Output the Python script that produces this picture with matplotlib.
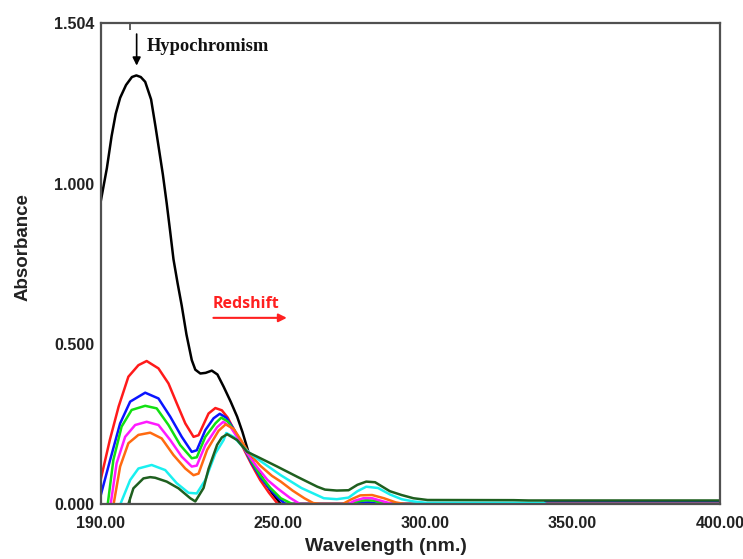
import matplotlib.pyplot as plt

# absorbance spectra, one (wavelength, absorbance) list per titration step
wl_black = [190, 192, 193.6, 195, 196.5, 198.5, 200.5, 202, 203.5, 205, 207, 208.5, 209.5, 211, 212.3,
            213.5, 214.6, 216, 217.4, 219, 220.8, 222, 223.7, 225.5, 227.6, 229.5, 231.6, 234, 236.2,
            238, 240.1, 242.5, 245.2, 248, 251, 400]
abs_black = [0.95, 1.05, 1.15, 1.22, 1.27, 1.31, 1.335, 1.34, 1.335, 1.32, 1.265, 1.18, 1.12, 1.03, 0.94,
             0.85, 0.765, 0.69, 0.62, 0.53, 0.45, 0.42, 0.408, 0.41, 0.417, 0.405, 0.367, 0.32, 0.273,
             0.225, 0.16, 0.115, 0.075, 0.035, 0.0, 0.0]

wl_red = [190, 193, 196, 199.3, 202.7, 205.5, 209.5, 212.9, 215.7, 218.6, 221.4, 223.1, 226.5, 228.8,
          231, 233, 235.5, 238, 241, 244, 247, 250, 400]
abs_red = [0.08, 0.2, 0.305, 0.398, 0.434, 0.447, 0.424, 0.377, 0.315, 0.252, 0.21, 0.215, 0.283, 0.3,
           0.293, 0.27, 0.225, 0.18, 0.125, 0.075, 0.035, 0.0, 0.0]

wl_blue = [190, 193.1, 196.5, 199.9, 205, 209.5, 213.5, 217.4, 220.8, 222.5, 225.4, 228.2, 230.3, 232.5,
           235, 238, 241, 244, 247, 250, 252.6, 275, 278, 281, 284, 340, 341, 400]
abs_blue = [0.03, 0.1375, 0.252, 0.32, 0.348, 0.33, 0.273, 0.21, 0.163, 0.168, 0.231, 0.268, 0.282, 0.27,
            0.235, 0.185, 0.13, 0.085, 0.05, 0.02, 0.0, 0.0, 0.004, 0.005, 0.0, 0.0, 0.008, 0.008]

wl_green = [191.5, 192.3, 194.2, 197, 200.4, 205, 208.9, 212.9, 216.9, 220.8, 222.5, 225.4, 228.8, 230.8,
            233, 235.5, 238, 241, 244, 247.5, 251, 254.9, 275, 277, 280, 283, 286, 400]
abs_green = [-0.02, 0.0, 0.1375, 0.242, 0.294, 0.307, 0.299, 0.247, 0.184, 0.143, 0.146, 0.21, 0.252, 0.27,
             0.258, 0.225, 0.185, 0.135, 0.09, 0.05, 0.018, 0.0, 0.0, 0.008, 0.012, 0.01, 0.0, 0.0]

wl_magenta = [192.5, 193.3, 195.3, 198.2, 201.6, 205.5, 209.5, 213.5, 217.4, 220.8, 222.5, 225.4, 229.4,
              231.5, 234, 236.5, 239.5, 243, 246.5, 250, 254, 257.5, 274, 276, 279, 282, 285, 289, 400]
abs_magenta = [-0.02, 0.0, 0.127, 0.21, 0.247, 0.257, 0.247, 0.2, 0.148, 0.117, 0.12, 0.184, 0.24,
               0.257, 0.24, 0.205, 0.16, 0.115, 0.075, 0.048, 0.02, 0.0, 0.0, 0.01, 0.018, 0.018, 0.01, 0.0, 0.0]

wl_orange = [193.5, 194.3, 196.5, 199.3, 202.7, 206.7, 210.6, 214.6, 218.6, 221.4, 223.1, 226, 229.9,
             232.3, 235, 237.5, 240, 244, 248, 251, 255, 259, 262, 264.5, 272, 275, 278, 282, 286, 290,
             293, 400]
abs_orange = [-0.02, 0.0, 0.117, 0.19, 0.216, 0.223, 0.205, 0.153, 0.111, 0.09, 0.095, 0.169, 0.229,
              0.249, 0.235, 0.2, 0.162, 0.12, 0.088, 0.07, 0.042, 0.018, 0.003, 0.0, 0.0, 0.015, 0.027,
              0.028, 0.018, 0.005, 0.0, 0.0]

wl_cyan = [195.8, 196.6, 199.9, 202.7, 207.2, 211.8, 215.7, 219.7, 222.5, 225.4, 228.8, 231.6, 232.5,
           235, 238, 240, 244, 251, 258, 265.6, 270, 274, 277, 280, 284, 288, 292, 296, 300, 340, 341]
abs_cyan = [-0.02, 0.0, 0.075, 0.111, 0.122, 0.106, 0.065, 0.035, 0.033, 0.075, 0.158, 0.2, 0.222,
            0.21, 0.18, 0.163, 0.135, 0.09, 0.05, 0.018, 0.015, 0.02, 0.04, 0.054, 0.05, 0.03, 0.015,
            0.008, 0.004, 0.004, 0.0]

wl_dkgreen = [198.5, 199.3, 201, 204.4, 206.7, 208.4, 212.3, 216.3, 220.3, 222, 224.8, 226.5, 229.4, 231,
              232.8, 236.2, 239.6, 243, 249.8, 256.6, 263.4, 266, 270, 274, 277, 280, 283, 288, 292,
              296, 300.8, 330, 335, 400]
abs_dkgreen = [-0.02, 0.0, 0.049, 0.08, 0.084, 0.082, 0.07, 0.049, 0.018, 0.008, 0.05, 0.11, 0.185, 0.208,
               0.218, 0.2, 0.163, 0.148, 0.117, 0.085, 0.054, 0.045, 0.042, 0.043, 0.06, 0.07, 0.068,
               0.04, 0.028, 0.018, 0.0125, 0.012, 0.011, 0.011]

spectra = [
    (wl_black, abs_black, "black"),
    (wl_red, abs_red, "#ff1a1a"),
    (wl_blue, abs_blue, "#0a14ff"),
    (wl_green, abs_green, "#12e012"),
    (wl_magenta, abs_magenta, "#ff1aff"),
    (wl_orange, abs_orange, "#ff6a10"),
    (wl_cyan, abs_cyan, "#1af0f0"),
    (wl_dkgreen, abs_dkgreen, "#1f5f1f"),
]

xtick_vals = [190, 250, 300, 350, 400]
xtick_labels = ["190.00", "250.00", "300.00", "350.00", "400.00"]
ytick_vals = [0.0, 0.5, 1.0, 1.504]
ytick_labels = ["0.000", "0.500", "1.000", "1.504"]

fig = plt.figure(figsize=(7.43, 5.59), dpi=100)
ax = fig.add_axes([0.1359, 0.0984, 0.8331, 0.8605])

for wl, a, col in spectra:
    ax.plot(wl, a, color=col, lw=1.8, solid_joinstyle="round")

ax.set_xlim(190, 400)
ax.set_ylim(0, 1.504)

axis_col = "#505050"
for s in ax.spines.values():
    s.set_color(axis_col)
    s.set_linewidth(1.6)

ax.set_xticks(xtick_vals)
ax.set_xticklabels(xtick_labels, fontfamily="Liberation Sans", fontweight="bold",
                   fontsize=11.5, color="#222222")
ax.set_yticks(ytick_vals)
ax.set_yticklabels(ytick_labels, fontfamily="Liberation Sans", fontweight="bold",
                   fontsize=11.5, color="#222222")
ax.tick_params(axis="x", length=0, pad=9)
ax.tick_params(axis="y", length=0, pad=5)

# small inward tick marks
ax.set_xticks([200, 250, 300, 350], minor=True)
ax.set_yticks([0.5, 1.0], minor=True)
ax.tick_params(which="minor", direction="in", length=5, width=1.3, color=axis_col,
               top=True, bottom=True, left=True, right=False)

ax.set_xlabel("Wavelength (nm.)", fontfamily="Liberation Sans", fontweight="bold",
              fontsize=14, color="#222222")
ax.set_ylabel("Absorbance", fontfamily="Liberation Sans", fontweight="bold",
              fontsize=13.5, color="#222222")
ax.xaxis.set_label_coords(0.46, -0.071)
ax.yaxis.set_label_coords(-0.112, 0.534)

# annotations
ax.annotate("", xy=(202.1, 1.362), xytext=(202.1, 1.478),
            arrowprops=dict(arrowstyle="-|>", color="black", lw=1.2, mutation_scale=12))
ax.text(205.4, 1.431, "Hypochromism", fontfamily="Liberation Serif", fontweight="bold",
        fontsize=13.3, color="#111111", va="center", ha="left")

ax.text(239.3, 0.625, "Redshift", fontfamily="Open Sans", fontweight="bold",
        fontsize=11.5, color="#ff2020", va="center", ha="center")
ax.annotate("", xy=(254.0, 0.582), xytext=(227.2, 0.582),
            arrowprops=dict(arrowstyle="-|>", color="#ff2020", lw=1.5, mutation_scale=12))

plt.savefig("out.png", dpi=100)
